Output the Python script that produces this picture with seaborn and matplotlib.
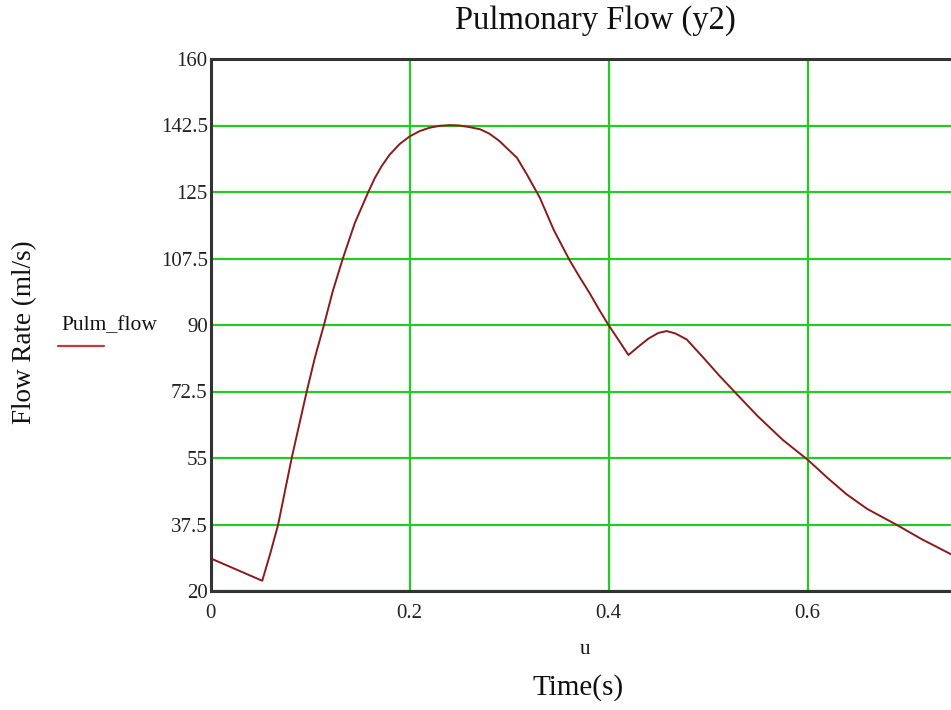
import matplotlib
matplotlib.use("Agg")
import matplotlib.pyplot as plt
from matplotlib.lines import Line2D
import seaborn as sns
import pandas as pd

# Pulmonary flow waveform over one cardiac cycle
time_s = [0.000, 0.052, 0.060, 0.068, 0.0816, 0.0967, 0.105, 0.114, 0.123,
          0.133, 0.145, 0.1586, 0.165, 0.172, 0.180, 0.190, 0.200, 0.210,
          0.220, 0.230, 0.2407, 0.250, 0.260, 0.271, 0.280, 0.290, 0.300,
          0.308, 0.318, 0.331, 0.345, 0.361, 0.371, 0.381, 0.390, 0.400,
          0.410, 0.420, 0.430, 0.440, 0.450, 0.4585, 0.467, 0.4786, 0.495,
          0.512, 0.530, 0.550, 0.575, 0.6008, 0.620, 0.639, 0.660, 0.6897,
          0.715, 0.744, 0.760]
flow_mls = [28.6, 22.7, 29.8, 37.5, 55.0, 72.5, 81.5, 90.0, 99.0,
            107.5, 116.8, 125.0, 128.6, 131.8, 134.8, 137.6, 139.6, 141.0,
            141.9, 142.4, 142.6, 142.5, 142.1, 141.5, 140.4, 138.5, 136.0,
            134.0, 129.6, 123.5, 115.0, 107.0, 102.6, 98.4, 94.3, 90.0,
            86.1, 82.1, 84.3, 86.4, 87.9, 88.4, 87.8, 86.2, 81.5,
            76.5, 71.5, 66.0, 59.8, 54.4, 49.8, 45.5, 41.6, 37.4,
            33.6, 29.7, 27.6]

x_ticks = [0, 0.2, 0.4, 0.6]
x_tick_labels = ["0", "0.2", "0.4", "0.6"]
y_ticks = [20, 37.5, 55, 72.5, 90, 107.5, 125, 142.5, 160]
y_tick_labels = ["20", "37.5", "55", "72.5", "90", "107.5", "125", "142.5", "160"]

df = pd.DataFrame({"Time": time_s, "Pulm_flow": flow_mls})

sns.set_style("white")
plt.rcParams["font.family"] = ["Liberation Serif", "DejaVu Serif"]

W, H = 951, 710
fig = plt.figure(figsize=(W / 100, H / 100), dpi=100)

# axes box: left edge at x=210, top at y=59, bottom at y=591 (pixels)
x_scale = 995.0  # pixels per unit time
left, top, bottom = 210.5, 59.0, 591.0
ax = fig.add_axes([left / W, (H - bottom) / H, 0.8 * x_scale / W, (bottom - top) / H])

sns.lineplot(data=df, x="Time", y="Pulm_flow", ax=ax, color="#8b1a1a",
             linewidth=1.4, sort=False, estimator=None)

ax.set_xlim(0, 0.8)
ax.set_ylim(20, 160)
ax.set_xticks(x_ticks)
ax.set_xticklabels(x_tick_labels)
ax.set_yticks(y_ticks)
ax.set_yticklabels(y_tick_labels)
ax.tick_params(axis="both", length=0, labelsize=15, colors="#222222")
ax.tick_params(axis="x", pad=9)
ax.tick_params(axis="y", pad=2)
ax.set_xlabel("")
ax.set_ylabel("")

ax.grid(True, color="#22cc22", linewidth=1.6)
ax.set_axisbelow(True)
for side in ["left", "bottom", "top", "right"]:
    ax.spines[side].set_color("#333333")
    ax.spines[side].set_linewidth(2.2)

# titles and labels
fig.text(595 / W, 1 - 21 / H, "Pulmonary Flow (y2)", ha="center", va="center",
         fontsize=23.5, color="#111111")
fig.text(25 / W, 1 - 332 / H, "Flow Rate (ml/s)", ha="center", va="center",
         rotation=90, fontsize=19.5, color="#111111")
fig.text(585 / W, 1 - 650 / H, "u", ha="center", va="center",
         fontsize=15, color="#111111")
fig.text(578 / W, 1 - 688 / H, "Time(s)", ha="center", va="center",
         fontsize=21, color="#111111")

# legend entry
fig.text(61 / W, 1 - 326 / H, "Pulm_flow", ha="left", va="center",
         fontsize=15.5, color="#111111")
fig.add_artist(Line2D([58 / W, 104 / W], [1 - 346 / H, 1 - 346 / H],
                      transform=fig.transFigure, color="#c03a3a", linewidth=1.6))

fig.savefig("out.png", dpi=100)
